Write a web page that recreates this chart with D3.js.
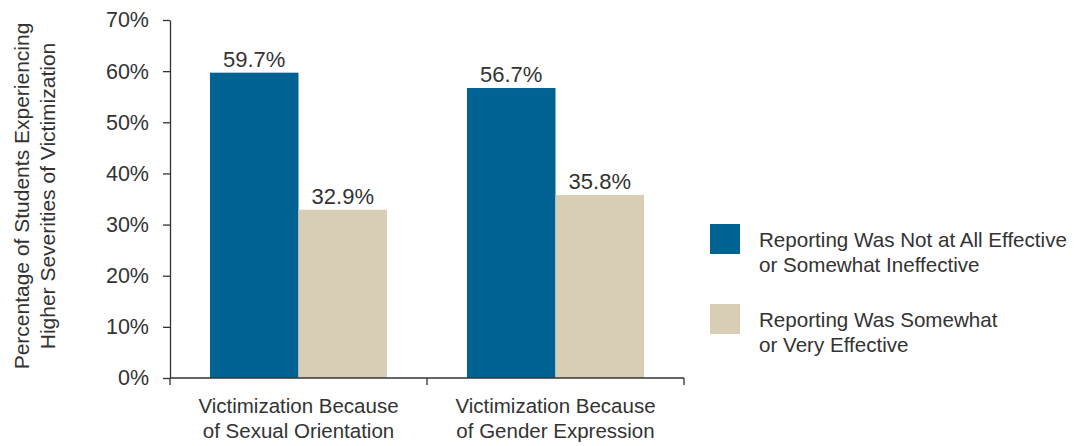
<!DOCTYPE html>
<html>
<head>
<meta charset="utf-8">
<script src="https://cdn.jsdelivr.net/npm/d3@7"></script>
<style>
  html, body { margin: 0; padding: 0; background: #fff; }
  svg { display: block; font-family: "Liberation Sans", Arial, sans-serif; }
</style>
</head>
<body>
<svg id="chart" width="1081" height="446"></svg>
<script>
const categories = [
  ["Victimization Because", "of Sexual Orientation"],
  ["Victimization Because", "of Gender Expression"]
];
const seriesNames = [
  ["Reporting Was Not at All Effective", "or Somewhat Ineffective"],
  ["Reporting Was Somewhat", "or Very Effective"]
];
const notEffective = [59.7, 56.7];
const effective = [32.9, 35.8];
const yTicks = [0, 10, 20, 30, 40, 50, 60, 70];
const yTitle = ["Percentage of Students Experiencing", "Higher Severities of Victimization"];
const colors = ["#006394", "#d8cdb5"];

const svg = d3.select("#chart");
const textColor = "#333333";
const plotLeft = 170, plotRight = 684, plotTop = 20, plotBottom = 378;

const x0 = d3.scaleBand().domain(d3.range(categories.length)).range([plotLeft, plotRight])
  .paddingInner(0.311).paddingOuter(0.1555);
const x1 = d3.scaleBand().domain([0, 1]).range([0, x0.bandwidth()]);
const y = d3.scaleLinear().domain([0, 70]).range([plotBottom, plotTop]);

const series = [notEffective, effective];

// bars
const groups = svg.append("g").selectAll("g").data(categories).join("g")
  .attr("transform", (d, i) => `translate(${x0(i)},0)`);
groups.each(function(d, i) {
  const g = d3.select(this);
  series.forEach((s, k) => {
    g.append("rect")
      .attr("x", x1(k)).attr("width", x1.bandwidth())
      .attr("y", y(s[i])).attr("height", y(0) - y(s[i]))
      .attr("fill", colors[k]);
    g.append("text")
      .attr("x", x1(k) + x1.bandwidth() / 2)
      .attr("y", y(s[i]) - 6)
      .attr("text-anchor", "middle")
      .attr("font-size", 22)
      .attr("fill", textColor)
      .text(s[i].toFixed(1) + "%");
  });
});

// y axis
const yAxis = svg.append("g").attr("transform", `translate(${plotLeft},0)`)
  .call(d3.axisLeft(y).tickValues(yTicks).tickFormat(d => d + "%").tickSize(7).tickPadding(14).tickSizeOuter(0));
yAxis.select(".domain").attr("stroke", textColor).attr("stroke-width", 1.3);
yAxis.selectAll(".tick line").attr("stroke", textColor).attr("stroke-width", 1.3);
yAxis.selectAll(".tick text").attr("font-size", 21.5).attr("fill", textColor)
  .attr("font-family", "'Liberation Sans', Arial, sans-serif");

// x axis
const xAxis = svg.append("g").attr("transform", `translate(0,${plotBottom})`);
xAxis.append("line").attr("x1", plotLeft).attr("x2", plotRight).attr("y1", 0).attr("y2", 0)
  .attr("stroke", textColor).attr("stroke-width", 1.3);
const step = x0.step();
const xTickPos = d3.range(categories.length + 1).map(i => x0(0) - x0.paddingOuter() * step + i * step);
xAxis.selectAll("line.tk").data(xTickPos).join("line").attr("class", "tk")
  .attr("x1", d => d).attr("x2", d => d).attr("y1", 0).attr("y2", 7)
  .attr("stroke", textColor).attr("stroke-width", 1.3);
categories.forEach((c, i) => {
  const t = xAxis.append("text")
    .attr("x", x0(i) + x0.bandwidth() / 2)
    .attr("text-anchor", "middle").attr("font-size", 20.5).attr("fill", textColor);
  c.forEach((line, j) => {
    t.append("tspan").attr("x", x0(i) + x0.bandwidth() / 2).attr("y", 35 + j * 25).text(line);
  });
});

// y title
const yt = svg.append("text").attr("transform", "translate(0,196) rotate(-90)")
  .attr("text-anchor", "middle").attr("font-size", 21).attr("fill", textColor);
yTitle.forEach((line, j) => {
  yt.append("tspan").attr("x", 0).attr("y", 29 + j * 26).text(line);
});

// legend
seriesNames.forEach((lines, k) => {
  const gy = 224 + k * 80;
  svg.append("rect").attr("x", 710).attr("y", gy).attr("width", 30).attr("height", 30).attr("fill", colors[k]);
  const t = svg.append("text").attr("font-size", 20.6).attr("fill", textColor);
  lines.forEach((line, j) => {
    t.append("tspan").attr("x", 759).attr("y", gy + 23 + j * 25).text(line);
  });
});
</script>
</body>
</html>
